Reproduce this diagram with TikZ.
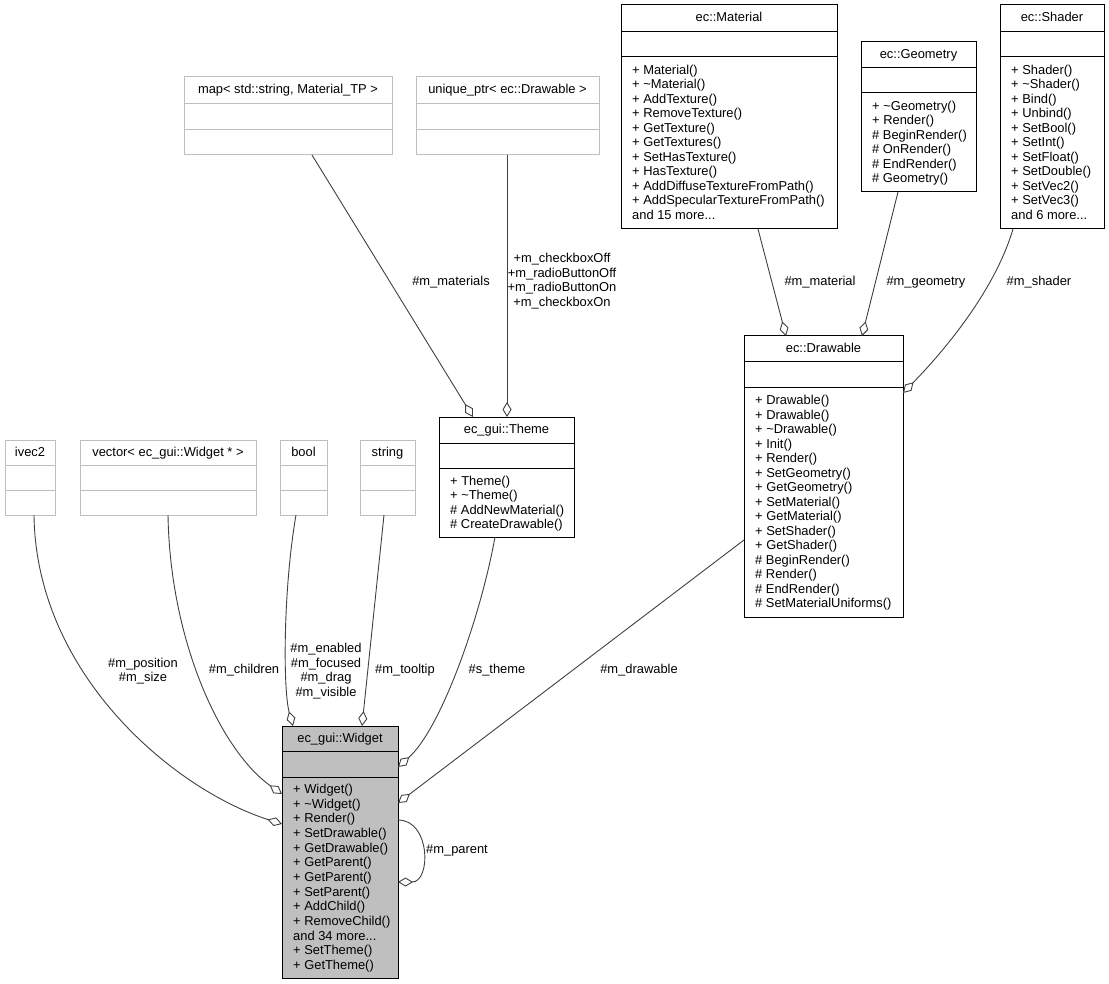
\documentclass[tikz,border=0pt]{standalone}
\usepackage{fontspec}
\setmainfont{Liberation Sans}
\usetikzlibrary{arrows.meta}
\definecolor{boxgray}{HTML}{BFBFBF}
\definecolor{edgegray}{HTML}{404040}

\begin{document}
\begin{tikzpicture}
[x=1pt,y=-1pt,font=\fontsize{12.9pt}{14.5pt}\selectfont,
 classbox/.style={draw=black,line width=1pt,fill=white,inner sep=0pt,outer sep=0pt,anchor=north west},
 typebox/.style={classbox,draw=boxgray},
 focusbox/.style={classbox,fill=boxgray},
 titletext/.style={anchor=base,inner sep=0pt},
 memberlist/.style={anchor=north west,align=left,inner sep=0pt},
 edgelabel/.style={align=center,inner sep=0pt},
 aggregation/.style={draw=edgegray,line width=0.9pt,-{Diamond[open,length=15pt,width=9pt]}}]
\useasboundingbox (0,0) rectangle (1109,984);

%% member types
\node[typebox,minimum width=50pt,minimum height=75pt] (ivec) at (5,440) {};
\node[typebox,minimum width=176pt,minimum height=75pt] (vector) at (80,440) {};
\node[typebox,minimum width=47pt,minimum height=75pt] (bool) at (280,440) {};
\node[typebox,minimum width=55pt,minimum height=75pt] (string) at (360,440) {};
\node[typebox,minimum width=208pt,minimum height=78pt] (map) at (184,77) {};
\node[typebox,minimum width=183pt,minimum height=78pt] (uniqueptr) at (416,77) {};
%% classes
\node[classbox,minimum width=135pt,minimum height=120pt] (theme) at (439,417) {};
\node[classbox,minimum width=216pt,minimum height=224pt] (material) at (621,5) {};
\node[classbox,minimum width=115pt,minimum height=150pt] (geometry) at (861,42) {};
\node[classbox,minimum width=104pt,minimum height=224pt] (shader) at (1000,5) {};
\node[classbox,minimum width=159pt,minimum height=281pt] (drawable) at (744,336) {};
\node[focusbox,minimum width=116pt,minimum height=252pt] (widget) at (282,726) {};

\foreach \n/\a/\b in {ivec/25/50, vector/25/50, bool/25/50, string/25/50, map/27/53, uniqueptr/27/53}
{
  \draw[boxgray,line width=1pt] ([yshift=-\a pt]\n.north west) -- ([yshift=-\a pt]\n.north east);
  \draw[boxgray,line width=1pt] ([yshift=-\b pt]\n.north west) -- ([yshift=-\b pt]\n.north east);
}
\foreach \n/\a/\b in {theme/26/51, material/27/52, geometry/26/51, shader/27/52, drawable/26/52, widget/25/51}
{
  \draw[line width=1pt] ([yshift=-\a pt]\n.north west) -- ([yshift=-\a pt]\n.north east);
  \draw[line width=1pt] ([yshift=-\b pt]\n.north west) -- ([yshift=-\b pt]\n.north east);
}

%% titles
\foreach \n/\t in {ivec/ivec2, vector/{vector< ec\_gui::Widget * >}, bool/bool, string/string,
  map/{map< std::string, Material\_TP >}, uniqueptr/{unique\_ptr< ec::Drawable >},
  theme/{ec\_gui::Theme}, material/{ec::Material}, geometry/{ec::Geometry},
  shader/{ec::Shader}, drawable/{ec::Drawable}, widget/{ec\_gui::Widget}}
{
  \node[titletext] (\n-title) at ([yshift=-16.5pt]\n.north) {\t};
}

%% members
\node[memberlist] (theme-members) at ([xshift=11pt,yshift=-58.5pt]theme.north west)
  {+ Theme()\\+ \textasciitilde{}Theme()\\\# AddNewMaterial()\\\# CreateDrawable()};
\node[memberlist] (material-members) at ([xshift=11pt,yshift=-59.5pt]material.north west)
  {+ Material()\\+ \textasciitilde{}Material()\\+ AddTexture()\\+ RemoveTexture()\\+ GetTexture()\\+ GetTextures()\\+ SetHasTexture()\\+ HasTexture()\\+ AddDiffuseTextureFromPath()\\+ AddSpecularTextureFromPath()\\and 15 more...};
\node[memberlist] (geometry-members) at ([xshift=11pt,yshift=-58.5pt]geometry.north west)
  {+ \textasciitilde{}Geometry()\\+ Render()\\\# BeginRender()\\\# OnRender()\\\# EndRender()\\\# Geometry()};
\node[memberlist] (shader-members) at ([xshift=11pt,yshift=-59.5pt]shader.north west)
  {+ Shader()\\+ \textasciitilde{}Shader()\\+ Bind()\\+ Unbind()\\+ SetBool()\\+ SetInt()\\+ SetFloat()\\+ SetDouble()\\+ SetVec2()\\+ SetVec3()\\and 6 more...};
\node[memberlist] (drawable-members) at ([xshift=11pt,yshift=-59pt]drawable.north west)
  {+ Drawable()\\+ Drawable()\\+ \textasciitilde{}Drawable()\\+ Init()\\+ Render()\\+ SetGeometry()\\+ GetGeometry()\\+ SetMaterial()\\+ GetMaterial()\\+ SetShader()\\+ GetShader()\\\# BeginRender()\\\# Render()\\\# EndRender()\\\# SetMaterialUniforms()};
\node[memberlist,font=\fontsize{12.9pt}{14.65pt}\selectfont] (widget-members) at ([xshift=11pt,yshift=-58pt]widget.north west)
  {+ Widget()\\+ \textasciitilde{}Widget()\\+ Render()\\+ SetDrawable()\\+ GetDrawable()\\+ GetParent()\\+ GetParent()\\+ SetParent()\\+ AddChild()\\+ RemoveChild()\\and 34 more...\\+ SetTheme()\\+ GetTheme()};

%% aggregations into ec_gui::Widget
\draw[aggregation] ([xshift=29pt]ivec.south west) .. controls (36,675) and (175,790) .. ([yshift=-98pt]widget.north west);
\draw[aggregation] (vector.south) .. controls (170,640) and (220,750) .. ([yshift=-68pt]widget.north west);
\draw[aggregation] ([xshift=16pt]bool.south west) .. controls (283,590) and (283,690) .. ([xshift=11pt]widget.north west);
\draw[aggregation] ([xshift=24pt]string.south west) -- ([xshift=80pt]widget.north west);
\draw[aggregation] ([xshift=56pt]theme.south west) .. controls (480,620) and (440,730) .. ([yshift=-41pt]widget.north east);
\draw[aggregation] ([yshift=-204pt]drawable.north west) -- ([yshift=-77pt]widget.north east);
\draw[aggregation] ([yshift=-94pt]widget.north east) .. controls (431,820) and (431,882) .. ([yshift=-156pt]widget.north east);
%% aggregations into ec_gui::Theme and ec::Drawable
\draw[aggregation] ([xshift=128pt]map.south west) -- ([xshift=34pt]theme.north west);
\draw[aggregation] ([xshift=91pt]uniqueptr.south west) -- ([xshift=68pt]theme.north west);
\draw[aggregation] ([xshift=137pt]material.south west) -- ([xshift=42pt]drawable.north west);
\draw[aggregation] ([xshift=37pt]geometry.south west) -- ([xshift=118pt]drawable.north west);
\draw[aggregation] ([xshift=13pt]shader.south west) .. controls (995,290) and (945,350) .. ([yshift=-57pt]drawable.north east);

%% edge labels
\node[edgelabel] (lbl-position) at (143,671) {\#m\_position\\\#m\_size};
\node[edgelabel] (lbl-children) at (244,670) {\#m\_children};
\node[edgelabel] (lbl-flags) at (326,671) {\#m\_enabled\\\#m\_focused\\\#m\_drag\\\#m\_visible};
\node[edgelabel] (lbl-tooltip) at (405,670) {\#m\_tooltip};
\node[edgelabel] (lbl-theme) at (497,670) {\#s\_theme};
\node[edgelabel] (lbl-drawable) at (639,670) {\#m\_drawable};
\node[edgelabel] (lbl-parent) at (457,850) {\#m\_parent};
\node[edgelabel] (lbl-materials) at (451,282) {\#m\_materials};
\node[edgelabel] (lbl-buttons) at (562,281) {+m\_checkboxOff\\+m\_radioButtonOff\\+m\_radioButtonOn\\+m\_checkboxOn};
\node[edgelabel] (lbl-material) at (820,282) {\#m\_material};
\node[edgelabel] (lbl-geometry) at (926,282) {\#m\_geometry};
\node[edgelabel] (lbl-shader) at (1039,282) {\#m\_shader};
\end{tikzpicture}
\end{document}
